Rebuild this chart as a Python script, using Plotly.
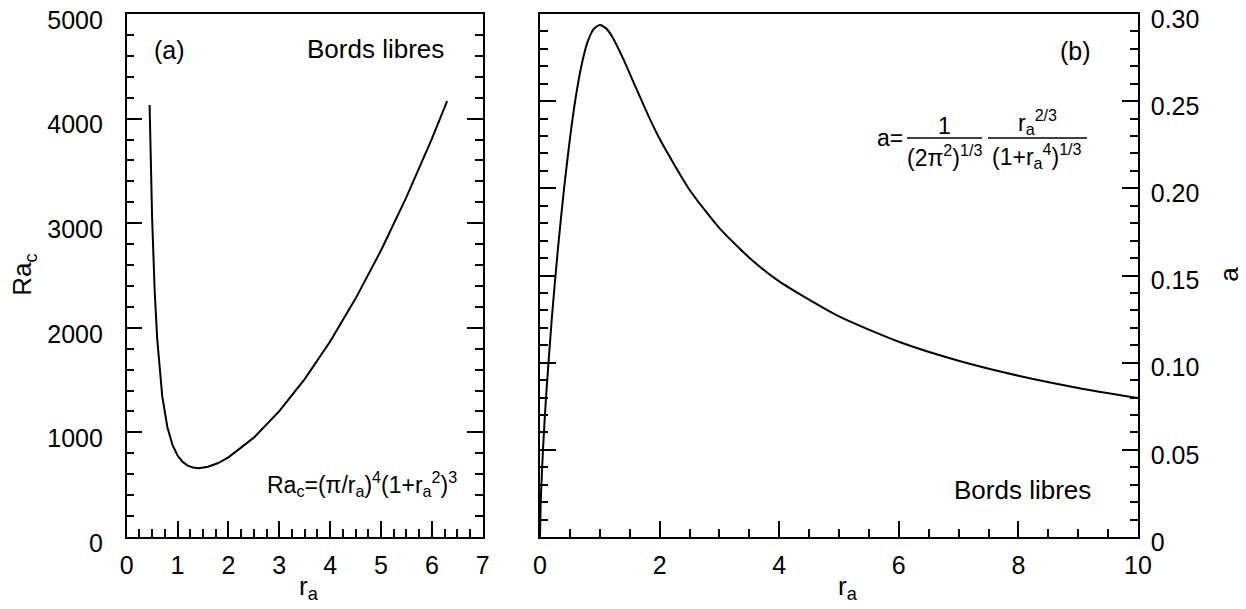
import plotly.graph_objects as go

# ---- data ----
ra_left = [0.45, 0.5, 0.55, 0.6, 0.7, 0.8, 0.9, 1.0, 1.1, 1.2, 1.3, 1.414, 1.6, 1.8, 2.0,
           2.5, 3.0, 3.5, 4.0, 4.5, 5.0, 5.5, 6.0, 6.3]
rac_left = [4130, 3044, 2352, 1891, 1342, 1049, 880, 779, 718, 682, 664, 658, 671, 707, 761,
            950, 1203, 1510, 1869, 2279, 2739, 3249, 3807, 4167]

ra_right = [0, 0.01, 0.02, 0.05, 0.1, 0.2, 0.3, 0.4, 0.5, 0.6, 0.7, 0.8, 0.9, 1.0, 1.1, 1.2,
            1.4, 1.6, 1.8, 2.0, 2.5, 3.0, 3.5, 4.0, 5.0, 6.0, 7.0, 8.0, 9.0, 10.0]
a_right = [0.0, 0.0172, 0.0273, 0.0502, 0.0797, 0.1265, 0.1654, 0.1992, 0.2284, 0.2528,
           0.2715, 0.2844, 0.2915, 0.2937, 0.2919, 0.2874, 0.2737, 0.2580, 0.2426, 0.2284,
           0.1992, 0.1772, 0.1602, 0.1466, 0.1265, 0.1120, 0.1011, 0.0925, 0.0855, 0.0797]

y2_tickvals = [0, 0.05, 0.10, 0.15, 0.20, 0.25, 0.30]
y2_ticktext = ["0", "0.05", "0.10", "0.15", "0.20", "0.25", "0.30"]

# page has an 8px body margin: the figure is placed at (8, 8)
OFF = 8
W, H = 1246 - OFF, 609 - OFF
MT, MB = 14 - OFF, 71.5
PH = H - MT - MB


def px(x):
    return (x - OFF) / W


def py(y):
    return (H - MB - (y - OFF)) / PH


FONT = "Liberation Sans, Arial, sans-serif"

fig = go.Figure()
fig.add_trace(go.Scatter(x=ra_left, y=rac_left, mode="lines",
                         line=dict(color="black", width=2), xaxis="x", yaxis="y",
                         showlegend=False))
fig.add_trace(go.Scatter(x=ra_right, y=a_right, mode="lines", line_shape="spline",
                         line=dict(color="black", width=2, smoothing=0.6), xaxis="x2", yaxis="y2",
                         showlegend=False))

common = dict(showgrid=False, zeroline=False, showline=True, linecolor="black",
              linewidth=1.5, ticks="inside", tickcolor="black", tickwidth=1.5,
              ticklen=16, ticklabeloverflow="allow",
              tickfont=dict(family=FONT, size=25, color="black"))

fig.update_layout(
    width=W, height=H,
    margin=dict(l=0, r=0, t=MT, b=MB, autoexpand=False),
    paper_bgcolor="white", plot_bgcolor="white",
    xaxis=dict(domain=[px(126.7), px(482.7)], range=[0, 7], dtick=1, tick0=0,
               mirror=True, anchor="y", ticklabelstandoff=5,
               minor=dict(dtick=0.25, ticks="inside", ticklen=8, tickcolor="black", tickwidth=1.5),
               **common),
    yaxis=dict(domain=[0, 1], range=[0, 5000], dtick=1000, tick0=0,
               mirror="ticks", anchor="x", ticklabelstandoff=17, ticklabelshift=6,
               minor=dict(dtick=200, ticks="inside", ticklen=8, tickcolor="black", tickwidth=1.5),
               **common),
    xaxis2=dict(domain=[px(540), px(1138)], range=[0, 10], dtick=2, tick0=0,
                mirror=True, anchor="y2", ticklabelstandoff=5,
                minor=dict(dtick=0.5, ticks="inside", ticklen=8, tickcolor="black", tickwidth=1.5),
                **common),
    yaxis2=dict(domain=[0, 1], range=[0, 0.30], tickvals=y2_tickvals, ticktext=y2_ticktext,
                side="right", mirror="ticks", anchor="x2", ticklabelstandoff=6, ticklabelshift=5,
                minor=dict(dtick=0.01, ticks="inside", ticklen=8, tickcolor="black", tickwidth=1.5),
                **common),
)

ann = []


def add(text, x, y, size=26, xanchor="center", yanchor="middle", angle=0):
    ann.append(dict(text=text, x=px(x), y=py(y), xref="paper", yref="paper",
                    showarrow=False, xanchor=xanchor, yanchor=yanchor, textangle=angle,
                    font=dict(family=FONT, size=size, color="black")))


# axis titles
add("r<sub>a</sub>", 309, 588)
add("r<sub>a</sub>", 848, 588)
add("Ra<sub>c</sub>", 24, 275, angle=-90)
add("a", 1229, 275, angle=-90)

# panel labels
add("(a)", 169, 50, size=25)
add("Bords libres", 446, 49, size=26, xanchor="right")
add("(b)", 1075, 51, size=25)
add("Bords libres", 1093, 490, size=26, xanchor="right")

# formula (a)
add("Ra<sub>c</sub>=(π/r<sub>a</sub>)<sup>4</sup>(1+r<sub>a</sub><sup>2</sup>)<sup>3</sup>",
    459, 484, size=23, xanchor="right")

# formula (b)
add("a=", 905, 138, size=23, xanchor="right")
add("1", 944, 126, size=23)
add("(2π<sup>2</sup>)<sup>1/3</sup>", 944, 156, size=23)
add("r<sub>a</sub><sup>2/3</sup>", 1037, 122, size=23)
add("(1+r<sub>a</sub><sup>4</sup>)<sup>1/3</sup>", 1037, 156, size=23)

fig.update_layout(annotations=ann)

for x0, x1 in [(907, 982), (988, 1087)]:
    fig.add_shape(type="line", xref="paper", yref="paper", x0=px(x0), x1=px(x1),
                  y0=py(138), y1=py(138), line=dict(color="black", width=1.5))

fig.write_html("out.html")
